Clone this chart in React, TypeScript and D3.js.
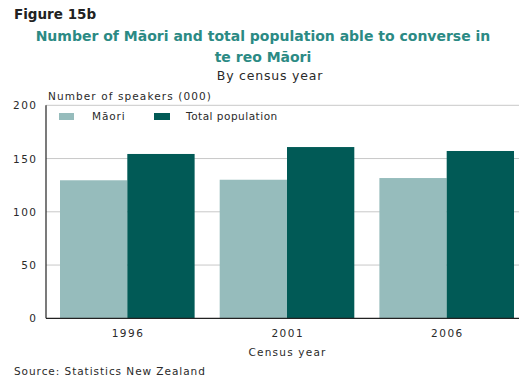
import React from "react";
import * as d3 from "d3";

const years = ["1996", "2001", "2006"];
const maori = [129.6, 130.1, 131.7];
const total = [154.3, 160.8, 157.1];
const yTicks = [0, 50, 100, 150, 200];
const seriesNames = ["Māori", "Total population"];

const W = 519;
const H = 379;
const FONT = "'DejaVu Sans', 'Open Sans', sans-serif";
const LIGHT = "#96bcbc";
const DARK = "#015a56";
const TITLE = "#2b8a84";
const TXT = "#2a2a2a";

export default function App() {
  const x0 = 46;
  const x1 = 519;
  const y = d3.scaleLinear().domain([0, 200]).range([318.3, 105.3]);
  const xb = d3.scaleBand<string>().domain(years).range([60, 514]).paddingInner(0.157).paddingOuter(0);
  const xs = d3.scaleBand<string>().domain(seriesNames).range([0, xb.bandwidth()]);
  const series = [maori, total];
  const colors = [LIGHT, DARK];
  const small = { fontSize: 10.5, fill: TXT, letterSpacing: 1 } as const;

  return (
    <svg width={W} height={H} style={{ position: "absolute", left: 0, top: 0, background: "#fff" }} fontFamily={FONT}>
      <rect width={W} height={H} fill="#fff" />
      <text x={14} y={19} fontSize={13.5} fontWeight="bold" fill="#222">Figure 15b</text>
      <text x={263} y={41} fontSize={14} fontWeight="bold" fill={TITLE} textAnchor="middle">
        Number of Māori and total population able to converse in
      </text>
      <text x={263} y={62} fontSize={14} fontWeight="bold" fill={TITLE} textAnchor="middle">te reo Māori</text>
      <text x={270} y={80} fontSize={12.5} fill={TXT} letterSpacing={0.8} textAnchor="middle">By census year</text>
      <text x={48} y={100} {...small} letterSpacing={1.1}>Number of speakers (000)</text>

      {yTicks.filter((t) => t > 0).map((t) => (
        <line key={"g" + t} x1={x0} x2={x1} y1={y(t)} y2={y(t)} stroke="#c8c8c8" strokeWidth={1} />
      ))}

      {years.map((yr, i) =>
        series.map((s, j) => (
          <rect
            key={yr + j}
            x={(xb(yr) as number) + (xs(seriesNames[j]) as number)}
            y={y(s[i])}
            width={xs.bandwidth()}
            height={y(0) - y(s[i])}
            fill={colors[j]}
          />
        ))
      )}

      <line x1={x0} x2={x0} y1={y(200)} y2={y(0)} stroke="#222" strokeWidth={1.2} />
      <line x1={x0} x2={x1} y1={y(0)} y2={y(0)} stroke="#222" strokeWidth={1.2} />

      {yTicks.map((t) => (
        <text key={"t" + t} x={37.5} y={y(t) + 4} {...small} letterSpacing={1.5} textAnchor="end">{t}</text>
      ))}
      {years.map((yr) => (
        <text key={"x" + yr} x={(xb(yr) as number) + xb.bandwidth() / 2 + 0.75} y={337} {...small} letterSpacing={1.5} textAnchor="middle">{yr}</text>
      ))}
      <text x={(xb("2001") as number) + xb.bandwidth() / 2 + 0.6} y={356} {...small} letterSpacing={1.2} textAnchor="middle">Census year</text>

      <rect x={59} y={113} width={15} height={7} fill={LIGHT} />
      <text x={92} y={120} {...small} letterSpacing={0.9}>{seriesNames[0]}</text>
      <rect x={154} y={113} width={16} height={7} fill={DARK} />
      <text x={186} y={120} {...small} letterSpacing={0.5}>{seriesNames[1]}</text>

      <text x={14} y={375} {...small} letterSpacing={0.95}>Source: Statistics New Zealand</text>
    </svg>
  );
}
